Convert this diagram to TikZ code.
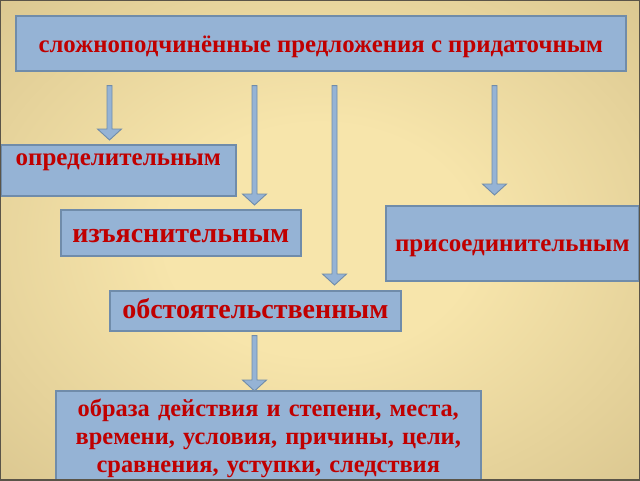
\documentclass[tikz,border=0pt]{standalone}
\usepackage{fontspec}
\setmainfont{Liberation Serif}
\usetikzlibrary{calc}
\definecolor{boxfill}{RGB}{149,179,213}
\definecolor{boxline}{RGB}{112,140,170}
\definecolor{txtred}{RGB}{192,0,0}
\definecolor{bgin}{RGB}{247,229,171}
\definecolor{bgmid}{RGB}{212,192,138}
\definecolor{bgout}{RGB}{128,114,90}
\definecolor{framec}{RGB}{90,84,72}
\pgfdeclareradialshading{bgshade}{\pgfpoint{0bp}{0bp}}{color(0bp)=(bgin); color(12bp)=(bgin); color(42bp)=(bgmid); color(72bp)=(bgout)}
\newcommand\blkarrow[2]{\draw[barrow] ($(#1)+(-2.5,0)$) -- ($(#2)+(-2.5,-11)$) -- ($(#2)+(-12,-11)$) -- (#2) -- ($(#2)+(12,-11)$) -- ($(#2)+(2.5,-11)$) -- ($(#1)+(2.5,0)$) -- cycle;}
\begin{document}
\begin{tikzpicture}[x=1pt,y=-1pt,
  box/.style={draw=boxline, line width=1.6pt, fill=boxfill, text=txtred, inner sep=0pt, anchor=north west},
  barrow/.style={draw=boxline, line width=0.9pt, fill=boxfill, line join=miter}]
\shade[shading=bgshade] (0,0) rectangle (640,480);
\useasboundingbox (0,0) rectangle (640,480);

\node[box, minimum width=610pt, text height=37pt, text depth=18pt, font=\fontsize{24.8}{30}\bfseries\selectfont] (top) at (15,15) {сложноподчинённые предложения с придаточным};
\node[box, minimum width=235pt, text height=21pt, text depth=30pt, font=\fontsize{25}{30}\bfseries\selectfont] (opr) at (0,144) {определительным};
\node[box, minimum width=240pt, text height=33pt, text depth=13pt, font=\fontsize{28}{30}\bfseries\selectfont] (izj) at (60,209) {изъяснительным};
\node[box, minimum width=253pt, text height=46pt, text depth=29pt, font=\fontsize{25}{30}\bfseries\selectfont] (pris) at (385,205) {присоединительным};
\node[box, minimum width=291pt, text height=28pt, text depth=12pt, font=\fontsize{28}{30}\bfseries\selectfont] (obst) at (109,290) {обстоятельственным};
\node[box, minimum width=425pt, minimum height=95pt, text width=425pt, align=center, font=\fontsize{24.4}{28}\bfseries\selectfont] (kinds) at (55,390) {образа действия и степени, места,\\времени, условия, причины, цели,\\сравнения, уступки, следствия};

\coordinate (s1) at ($(109.5,0 |- top.south)+(0,14)$);
\coordinate (s2) at ($(254.5,0 |- top.south)+(0,14)$);
\coordinate (s3) at ($(334.5,0 |- top.south)+(0,14)$);
\coordinate (s4) at ($(494.5,0 |- top.south)+(0,14)$);
\coordinate (e1) at ($(109.5,0 |- opr.north)+(0,-4)$);
\coordinate (e2) at ($(254.5,0 |- izj.north)+(0,-4)$);
\coordinate (e3) at ($(334.5,0 |- obst.north)+(0,-5)$);
\coordinate (e4) at ($(494.5,0 |- pris.north)+(0,-10)$);
\coordinate (s5) at ($(254.5,0 |- obst.south)+(0,4)$);
\coordinate (e5) at ($(254.5,0 |- kinds.north)+(0,1)$);
\blkarrow{s1}{e1}
\blkarrow{s2}{e2}
\blkarrow{s3}{e3}
\blkarrow{s4}{e4}
\blkarrow{s5}{e5}

\draw[framec, line width=1.5pt] (0,0) rectangle (640,480);
\end{tikzpicture}
\end{document}
